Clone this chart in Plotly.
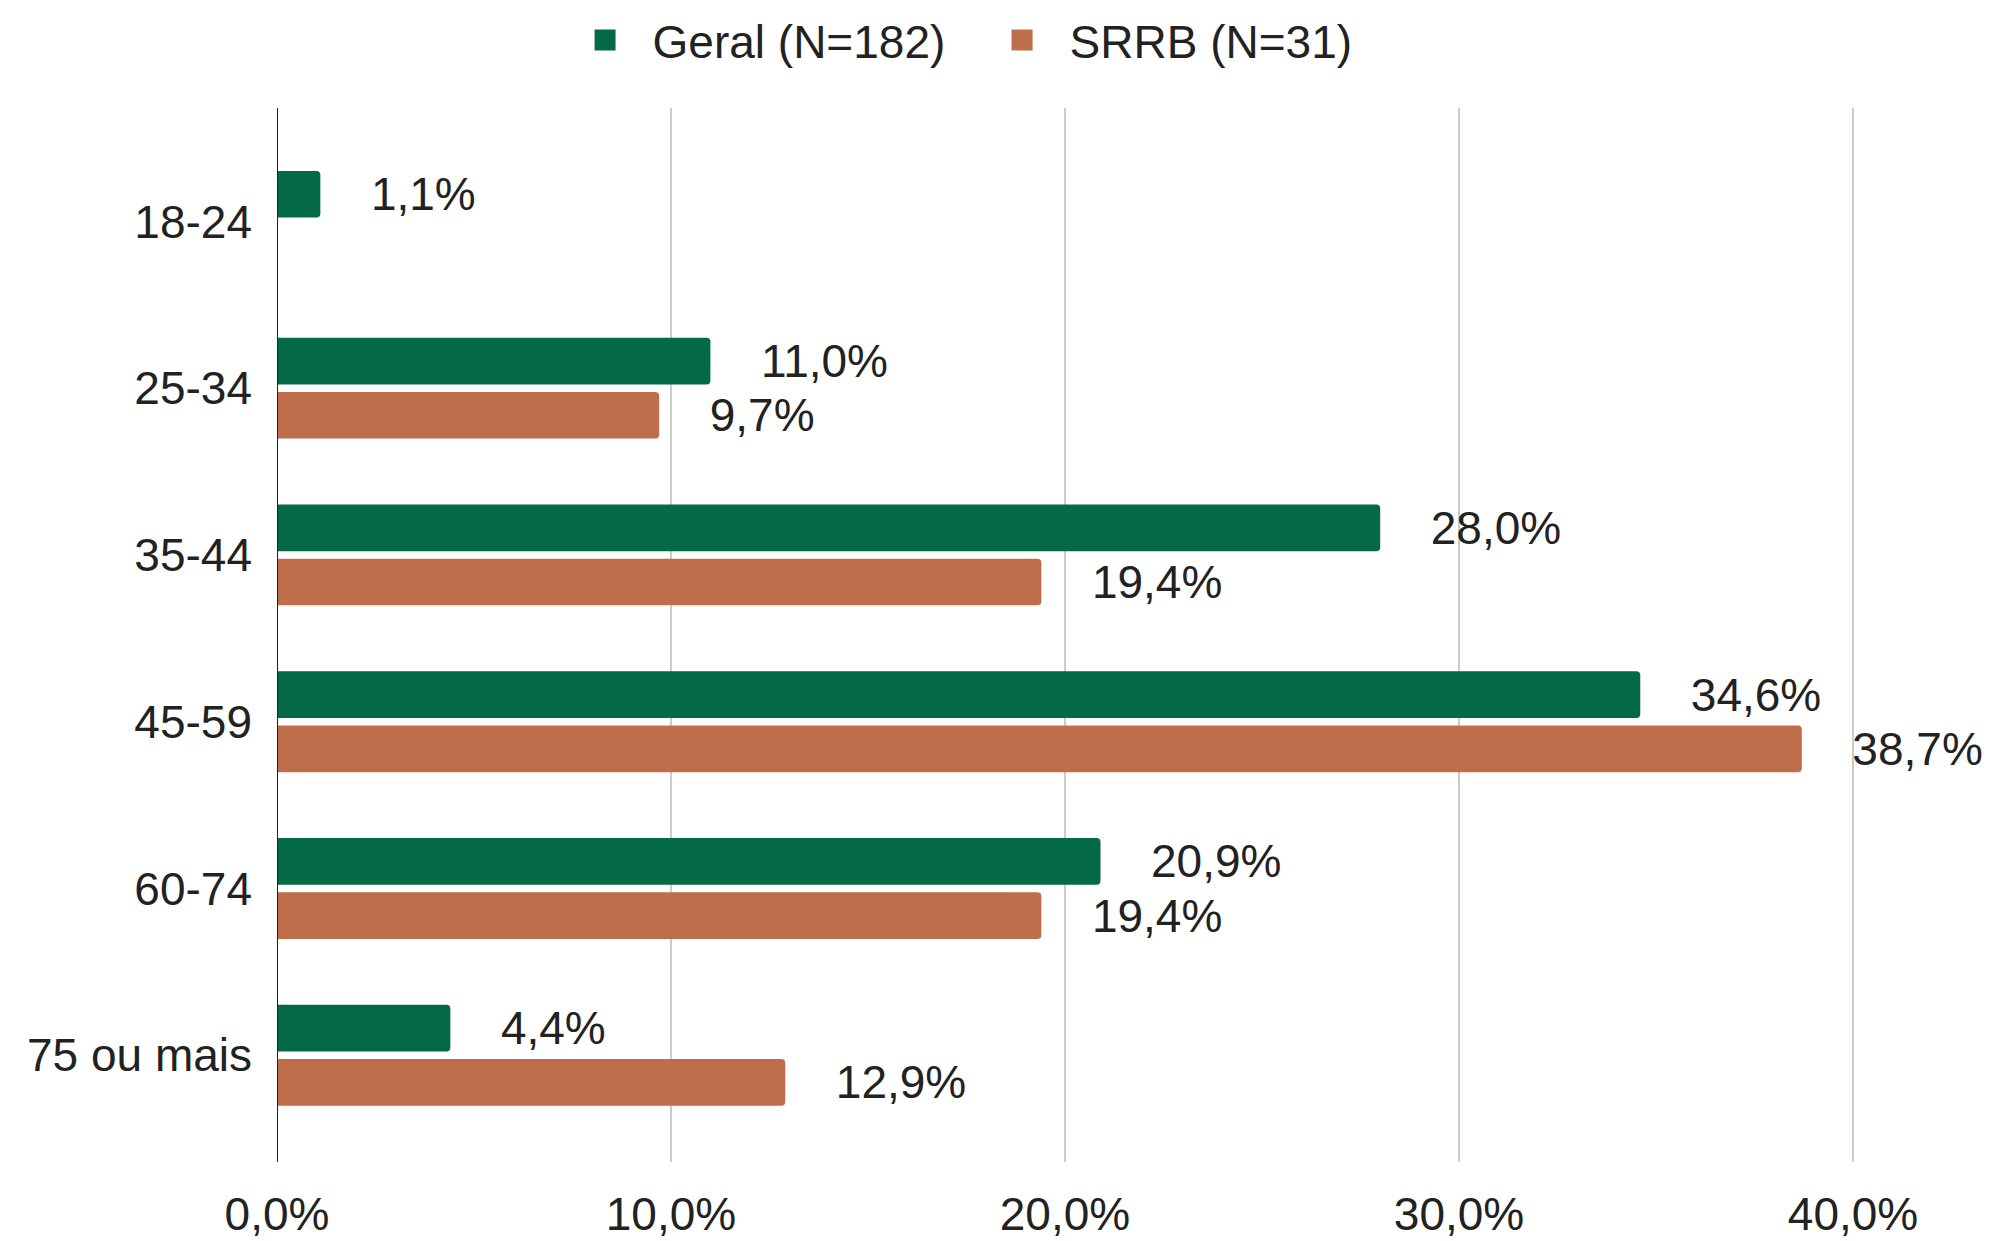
import plotly.graph_objects as go

categories = ["18-24", "25-34", "35-44", "45-59", "60-74", "75 ou mais"]
geral = [1.1, 11.0, 28.0, 34.6, 20.9, 4.4]
srrb = [None, 9.7, 19.4, 38.7, 19.4, 12.9]
series_names = ["Geral (N=182)", "SRRB (N=31)"]
colors = ["#046945", "#BE6E4B"]
x_ticks = [0, 10, 20, 30, 40]
x_tick_labels = ["0,0%", "10,0%", "20,0%", "30,0%", "40,0%"]

FONT = "Liberation Sans, Arial, sans-serif"
FS = 46
NB = "\u00a0" * 3 + "\u2009"

fig = go.Figure()
for name, vals, col in zip(series_names, [geral, srrb], colors):
    fig.add_trace(go.Bar(
        y=categories, x=vals, name=name, orientation="h", showlegend=False,
        marker=dict(color=col, cornerradius=4, line=dict(width=0)),
        text=vals, texttemplate=NB + "%{x:.1f}%", textposition="outside",
        constraintext="none", cliponaxis=False,
        textfont=dict(family=FONT, size=FS, color="#222222"),
    ))
    # legend entry (square swatch)
    fig.add_trace(go.Scatter(
        x=[None], y=[None], mode="markers", name=name, showlegend=True,
        marker=dict(symbol="square", size=16, color=col,
                    line=dict(color=col, width=5)),
    ))

fig.update_layout(
    width=1984, height=1233,
    margin=dict(l=269, r=137, t=100, b=79, autoexpand=False),
    paper_bgcolor="white", plot_bgcolor="white",
    separators=",.",
    barmode="group", bargap=0.35, bargroupgap=0.14,
    font=dict(family=FONT, size=FS, color="#222222"),
    legend=dict(orientation="h", xref="container", yref="container",
                x=0.277, y=0.974, xanchor="left", yanchor="middle",
                font=dict(size=FS, color="#222222"), itemwidth=85,
                entrywidth=317, entrywidthmode="pixels",
                traceorder="normal"),
    xaxis=dict(range=[0, 40.05], tickvals=x_ticks, ticktext=x_tick_labels,
               showgrid=True, gridcolor="#CCCCCC", gridwidth=2,
               zeroline=False, showline=False, ticks="", ticklabelstandoff=21,
               automargin=False, tickfont=dict(size=FS, color="#222222")),
    yaxis=dict(categoryorder="array", categoryarray=categories,
               range=[5.64, -0.68], showgrid=False, zeroline=False,
               showline=False, ticks="", ticklabelstandoff=24, automargin=False,
               tickfont=dict(size=FS, color="#222222")),
    shapes=[dict(type="line", xref="x", yref="paper", x0=0, x1=0, y0=0, y1=1,
                 line=dict(color="#222222", width=2))],
)

fig.write_html("out.html")
